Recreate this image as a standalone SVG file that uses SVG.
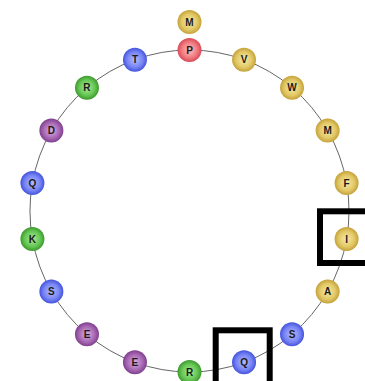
<svg xmlns="http://www.w3.org/2000/svg" width="365" height="381" viewBox="0 0 365 381">
<style>
.lbl{font-family:"Liberation Sans",Arial,sans-serif;font-weight:bold;font-size:10px;fill:#1a1a1a;text-anchor:middle}
.ring{fill:none;stroke:#666;stroke-width:1}
.box{fill:none;stroke:#000;stroke-width:6}
.gold{fill:url(#gGold)}.blue{fill:url(#gBlue)}.green{fill:url(#gGreen)}.purple{fill:url(#gPurple)}.red{fill:url(#gRed)}
</style>
<defs>
<radialGradient id="gGold" cx="50%" cy="50%" r="50%"><stop offset="0" stop-color="#f7eaa8"/><stop offset="0.65" stop-color="#e2c866"/><stop offset="1" stop-color="#c4a23a"/></radialGradient>
<radialGradient id="gBlue" cx="50%" cy="50%" r="50%"><stop offset="0" stop-color="#b4bcff"/><stop offset="0.65" stop-color="#7784f4"/><stop offset="1" stop-color="#4453dc"/></radialGradient>
<radialGradient id="gGreen" cx="50%" cy="50%" r="50%"><stop offset="0" stop-color="#a8ec98"/><stop offset="0.65" stop-color="#66c654"/><stop offset="1" stop-color="#3c9a2c"/></radialGradient>
<radialGradient id="gPurple" cx="50%" cy="50%" r="50%"><stop offset="0" stop-color="#dcaee4"/><stop offset="0.65" stop-color="#a868b4"/><stop offset="1" stop-color="#7e3f8c"/></radialGradient>
<radialGradient id="gRed" cx="50%" cy="50%" r="50%"><stop offset="0" stop-color="#ffc0c0"/><stop offset="0.65" stop-color="#f07a80"/><stop offset="1" stop-color="#d84a56"/></radialGradient>
</defs>
<rect width="365" height="381" fill="#fff"/>
<g id="connectors" class="ring">
<path d="M189.5 50 A159.5 161 0 0 1 244.05 59.71"/>
<path d="M244.05 59.71 A159.5 161 0 0 1 292.03 87.67"/>
<path d="M292.03 87.67 A159.5 161 0 0 1 327.63 130.5"/>
<path d="M327.63 130.5 A159.5 161 0 0 1 346.58 183.04"/>
<path d="M346.58 183.04 A159.5 161 0 0 1 346.58 238.96"/>
<path d="M346.58 238.96 A159.5 161 0 0 1 327.63 291.5"/>
<path d="M327.63 291.5 A159.5 161 0 0 1 292.03 334.33"/>
<path d="M292.03 334.33 A159.5 161 0 0 1 244.05 362.29"/>
<path d="M244.05 362.29 A159.5 161 0 0 1 189.5 372"/>
<path d="M189.5 372 A159.5 161 0 0 1 134.95 362.29"/>
<path d="M134.95 362.29 A159.5 161 0 0 1 86.97 334.33"/>
<path d="M86.97 334.33 A159.5 161 0 0 1 51.37 291.5"/>
<path d="M51.37 291.5 A159.5 161 0 0 1 32.42 238.96"/>
<path d="M32.42 238.96 A159.5 161 0 0 1 32.42 183.04"/>
<path d="M32.42 183.04 A159.5 161 0 0 1 51.37 130.5"/>
<path d="M51.37 130.5 A159.5 161 0 0 1 86.97 87.67"/>
<path d="M86.97 87.67 A159.5 161 0 0 1 134.95 59.71"/>
<path d="M134.95 59.71 A159.5 161 0 0 1 189.5 50"/>
</g>
<g id="n-M-top"><circle class="gold" cx="189.5" cy="22" r="12"/><text class="lbl" x="189.5" y="25.5">M</text></g>
<g id="n-P"><circle class="red" cx="189.5" cy="50" r="12"/><text class="lbl" x="189.5" y="53.5">P</text></g>
<g id="n-V"><circle class="gold" cx="244.05" cy="59.71" r="12"/><text class="lbl" x="244.05" y="63.2">V</text></g>
<g id="n-W"><circle class="gold" cx="292.03" cy="87.67" r="12"/><text class="lbl" x="292.03" y="91.2">W</text></g>
<g id="n-M-right"><circle class="gold" cx="327.63" cy="130.5" r="12"/><text class="lbl" x="327.63" y="134">M</text></g>
<g id="n-F"><circle class="gold" cx="346.58" cy="183.04" r="12"/><text class="lbl" x="346.58" y="186.5">F</text></g>
<g id="n-I"><circle class="gold" cx="346.58" cy="238.96" r="12"/><text class="lbl" x="346.58" y="242.5">I</text></g>
<g id="n-A"><circle class="gold" cx="327.63" cy="291.5" r="12"/><text class="lbl" x="327.63" y="295">A</text></g>
<g id="n-S-right"><circle class="blue" cx="292.03" cy="334.33" r="12"/><text class="lbl" x="292.03" y="337.8">S</text></g>
<g id="n-Q-bottom"><circle class="blue" cx="244.05" cy="362.29" r="12"/><text class="lbl" x="244.05" y="365.8">Q</text></g>
<g id="n-R-bottom"><circle class="green" cx="189.5" cy="372" r="12"/><text class="lbl" x="189.5" y="375.5">R</text></g>
<g id="n-E-bottom"><circle class="purple" cx="134.95" cy="362.29" r="12"/><text class="lbl" x="134.95" y="365.8">E</text></g>
<g id="n-E-left"><circle class="purple" cx="86.97" cy="334.33" r="12"/><text class="lbl" x="86.97" y="337.8">E</text></g>
<g id="n-S-left"><circle class="blue" cx="51.37" cy="291.5" r="12"/><text class="lbl" x="51.37" y="295">S</text></g>
<g id="n-K"><circle class="green" cx="32.42" cy="238.96" r="12"/><text class="lbl" x="32.42" y="242.5">K</text></g>
<g id="n-Q-left"><circle class="blue" cx="32.42" cy="183.04" r="12"/><text class="lbl" x="32.42" y="186.5">Q</text></g>
<g id="n-D"><circle class="purple" cx="51.37" cy="130.5" r="12"/><text class="lbl" x="51.37" y="134">D</text></g>
<g id="n-R-top"><circle class="green" cx="86.97" cy="87.67" r="12"/><text class="lbl" x="86.97" y="91.2">R</text></g>
<g id="n-T"><circle class="blue" cx="134.95" cy="59.71" r="12"/><text class="lbl" x="134.95" y="63.2">T</text></g>
<g id="highlight-I"><rect class="box" x="320" y="211.3" width="56" height="51.7"/></g>
<g id="highlight-Q"><rect class="box" x="215.7" y="330.3" width="54" height="56"/></g>
</svg>
